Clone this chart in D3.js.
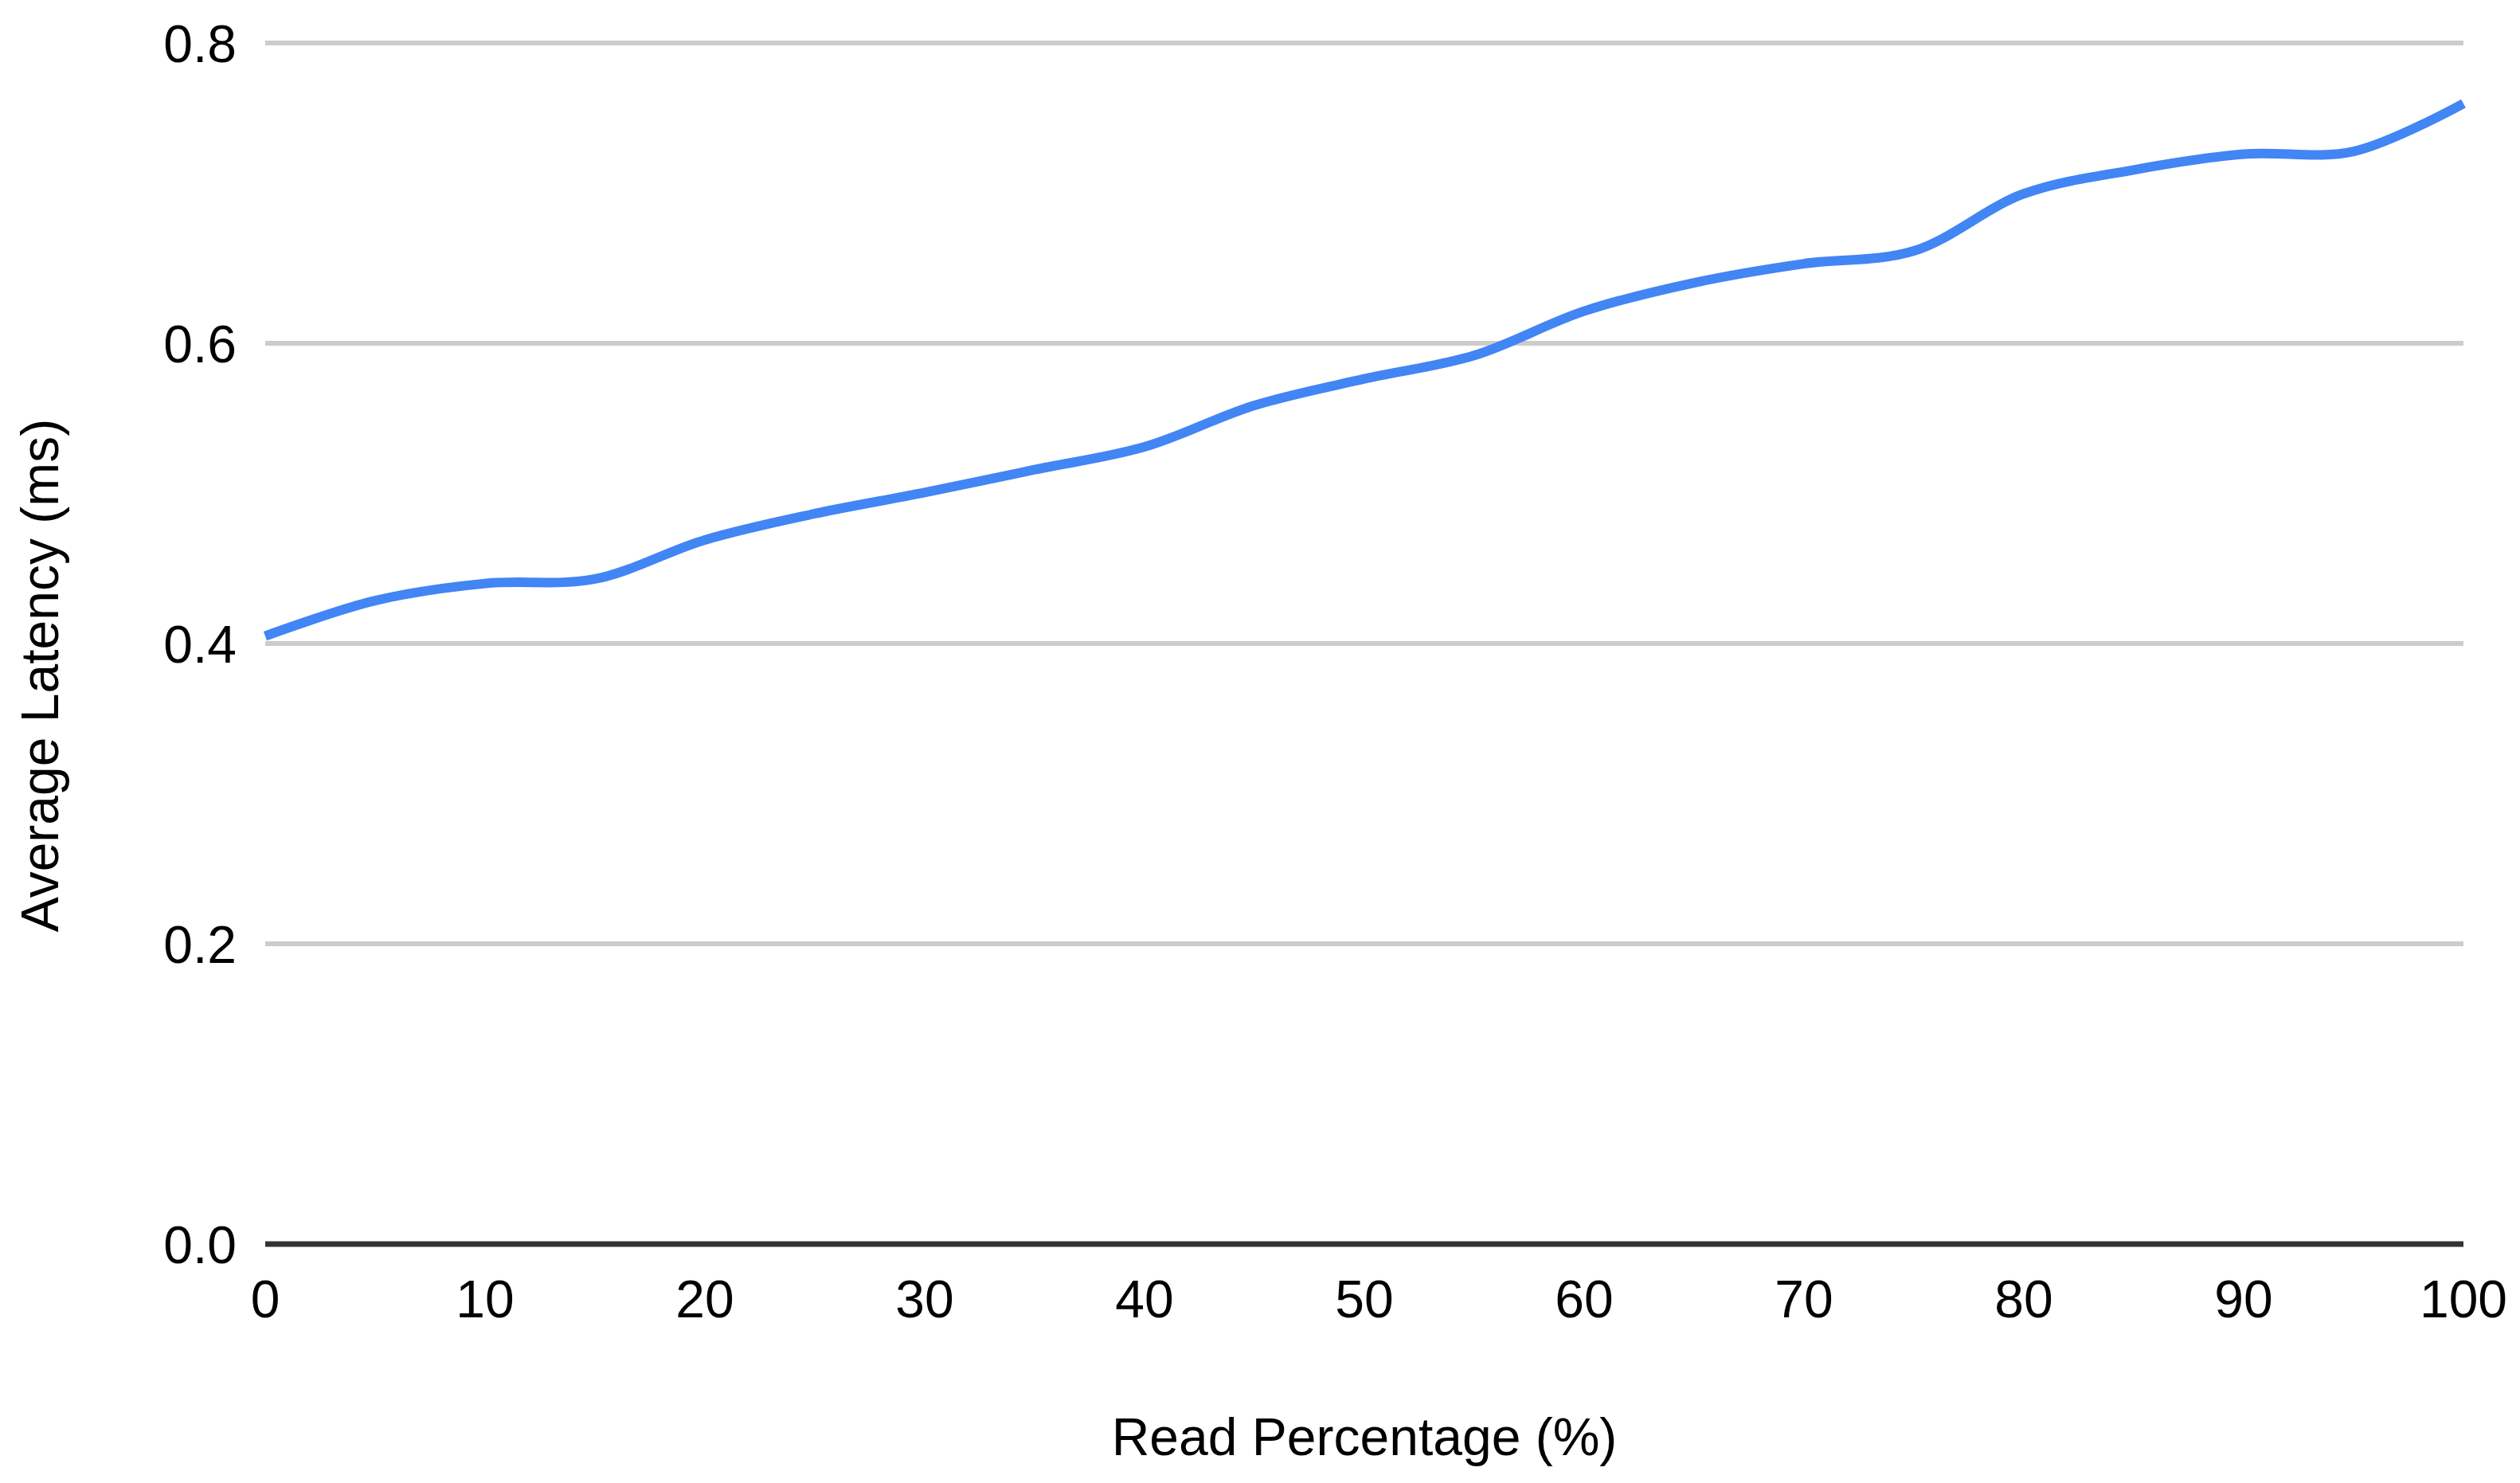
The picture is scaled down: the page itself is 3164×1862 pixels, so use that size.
<!DOCTYPE html>
<html>
<head>
<meta charset="utf-8">
<script src="https://cdn.jsdelivr.net/npm/d3@7"></script>
<style>
  html, body { margin: 0; padding: 0; background: #ffffff; }
  svg { display: block; }
  text { font-family: "Liberation Sans", Arial, sans-serif; fill: #000000; }
</style>
</head>
<body>
<svg id="chart" width="3164" height="1862"></svg>
<script>
// ---- data ----
const readPct = [0, 5, 10, 15, 20, 25, 30, 35, 40, 45, 50, 55, 60, 65, 70, 75, 80, 85, 90, 95, 100];
const latency = [0.405, 0.4286, 0.440, 0.443, 0.469, 0.4865, 0.5006, 0.5158, 0.531, 0.5586, 0.5763, 0.5919, 0.6214, 0.6403, 0.653, 0.6615, 0.6996, 0.7155, 0.726, 0.7278, 0.7597];
const xTicks = [0, 10, 20, 30, 40, 50, 60, 70, 80, 90, 100];
const yTicks = [0.0, 0.2, 0.4, 0.6, 0.8];
const xTitle = "Read Percentage (%)";
const yTitle = "Average Latency (ms)";

(function () {
  // ---- layout ----
  const plotLeft = 333, plotRight = 3093, plotTop = 54, plotBottom = 1562;
  const fontSize = 66;

  const svg = d3.select("#chart");
  const x = d3.scaleLinear().domain([0, 100]).range([plotLeft, plotRight]);
  const y = d3.scaleLinear().domain([0, 0.8]).range([plotBottom, plotTop]);

  // gridlines
  svg.append("g").selectAll("line")
    .data(yTicks.filter(d => d !== 0))
    .join("line")
    .attr("x1", plotLeft).attr("x2", plotRight)
    .attr("y1", d => y(d)).attr("y2", d => y(d))
    .attr("stroke", "#cccccc").attr("stroke-width", 6);

  // y tick labels
  svg.append("g").selectAll("text")
    .data(yTicks)
    .join("text")
    .attr("x", plotLeft - 36)
    .attr("y", d => y(d))
    .attr("dy", "0.36em")
    .attr("text-anchor", "end")
    .style("font-size", fontSize + "px")
    .text(d => d3.format(".1f")(d));

  // x tick labels
  svg.append("g").selectAll("text")
    .data(xTicks)
    .join("text")
    .attr("x", d => x(d))
    .attr("y", 1654)
    .attr("text-anchor", "middle")
    .style("font-size", fontSize + "px")
    .text(d => d);

  // line
  const line = d3.line()
    .x((d, i) => x(readPct[i]))
    .y(d => y(d))
    .curve(d3.curveCatmullRom.alpha(0.5));

  svg.append("path")
    .datum(latency)
    .attr("d", line)
    .attr("fill", "none")
    .attr("stroke", "#4285f4")
    .attr("stroke-width", 12)
    .attr("stroke-linejoin", "round");

  // baseline
  svg.append("line")
    .attr("x1", plotLeft).attr("x2", plotRight)
    .attr("y1", y(0)).attr("y2", y(0))
    .attr("stroke", "#333333").attr("stroke-width", 7);

  // axis titles
  svg.append("text")
    .attr("x", (plotLeft + plotRight) / 2)
    .attr("y", 1827)
    .attr("text-anchor", "middle")
    .style("font-size", fontSize + "px")
    .text(xTitle);

  svg.append("text")
    .attr("transform", "translate(73,848) rotate(-90)")
    .attr("text-anchor", "middle")
    .style("font-size", fontSize + "px")
    .text(yTitle);
})();
</script>
</body>
</html>
